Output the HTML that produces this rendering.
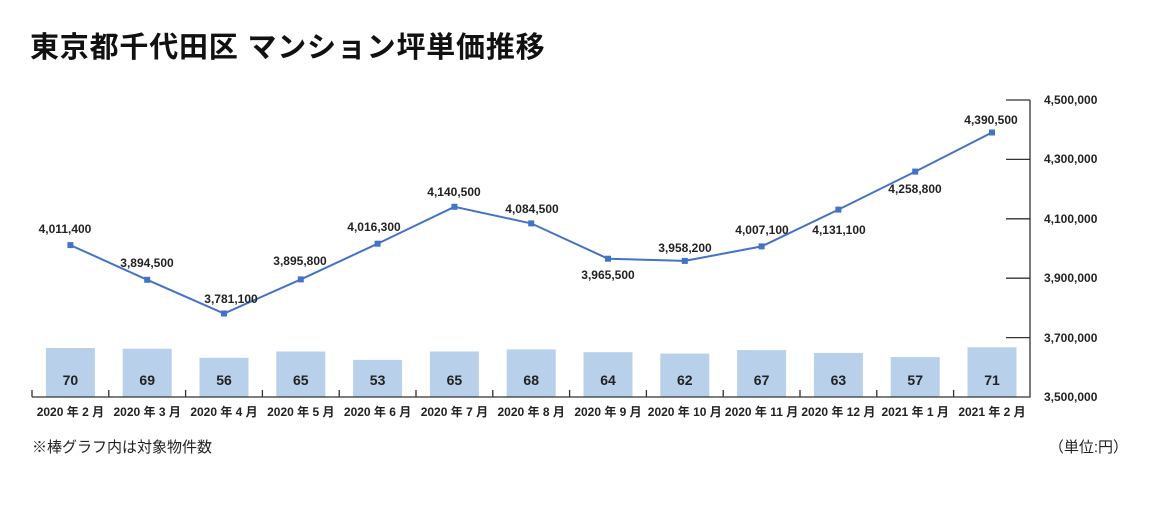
<!DOCTYPE html>
<html><head><meta charset="utf-8"><style>
body{margin:0;background:#fff;width:1160px;height:500px;overflow:hidden}
svg text{font-family:"Liberation Sans","Noto Sans CJK JP",sans-serif}
</style></head><body>
<svg width="1160" height="500" xmlns="http://www.w3.org/2000/svg">
<text x="30" y="57" font-size="29" font-weight="bold" fill="#111" letter-spacing="0.8">東京都千代田区 マンション坪単価推移</text>
<g fill="#b8d0ea">
<rect x="45.9" y="348" width="49" height="49"/>
<rect x="122.7" y="348.7" width="49" height="48.3"/>
<rect x="199.5" y="357.8" width="49" height="39.2"/>
<rect x="276.3" y="351.5" width="49" height="45.5"/>
<rect x="353.1" y="359.9" width="49" height="37.1"/>
<rect x="429.9" y="351.5" width="49" height="45.5"/>
<rect x="506.7" y="349.4" width="49" height="47.6"/>
<rect x="583.5" y="352.2" width="49" height="44.8"/>
<rect x="660.3" y="353.6" width="49" height="43.4"/>
<rect x="737.1" y="350.1" width="49" height="46.9"/>
<rect x="813.9" y="352.9" width="49" height="44.1"/>
<rect x="890.7" y="357.1" width="49" height="39.9"/>
<rect x="967.5" y="347.3" width="49" height="49.7"/>
</g>
<g font-size="14" font-weight="bold" fill="#222" text-anchor="middle">
<text x="70.4" y="385">70</text><text x="147.2" y="385">69</text><text x="224" y="385">56</text><text x="300.8" y="385">65</text><text x="377.6" y="385">53</text><text x="454.4" y="385">65</text><text x="531.2" y="385">68</text><text x="608" y="385">64</text><text x="684.8" y="385">62</text><text x="761.6" y="385">67</text><text x="838.4" y="385">63</text><text x="915.2" y="385">57</text><text x="992" y="385">71</text>
</g>
<g stroke="#333" stroke-width="1.3" fill="none">
<path d="M32 397H1030V100"/>
<path d="M1006 100H1030M1006 159.4H1030M1006 218.8H1030M1006 278.2H1030M1006 337.6H1030"/>
<path d="M32 390V397M108.8 390V397M185.6 390V397M262.4 390V397M339.2 390V397M416 390V397M492.8 390V397M569.6 390V397M646.4 390V397M723.2 390V397M800 390V397M876.8 390V397M953.6 390V397"/>
</g>
<g font-size="12" font-weight="bold" fill="#222">
<text x="1044" y="104">4,500,000</text><text x="1044" y="163">4,300,000</text><text x="1044" y="223">4,100,000</text><text x="1044" y="282">3,900,000</text><text x="1044" y="342">3,700,000</text><text x="1044" y="401">3,500,000</text>
</g>
<g font-size="12" font-weight="bold" fill="#222" text-anchor="middle">
<text x="70.4" y="416">2020 年 2 月</text><text x="147.2" y="416">2020 年 3 月</text><text x="224" y="416">2020 年 4 月</text><text x="300.8" y="416">2020 年 5 月</text><text x="377.6" y="416">2020 年 6 月</text><text x="454.4" y="416">2020 年 7 月</text><text x="531.2" y="416">2020 年 8 月</text><text x="608" y="416">2020 年 9 月</text><text x="684.8" y="416">2020 年 10 月</text><text x="761.6" y="416">2020 年 11 月</text><text x="838.4" y="416">2020 年 12 月</text><text x="915.2" y="416">2021 年 1 月</text><text x="992" y="416">2021 年 2 月</text>
</g>
<polyline fill="none" stroke="#4472c4" stroke-width="2" points="70.4,245.1 147.2,279.8 224,313.5 300.8,279.4 377.6,243.7 454.4,206.8 531.2,223.4 608,258.7 684.8,260.9 761.6,246.4 838.4,209.6 915.2,171.6 992,132.5"/>
<g fill="#4472c4">
<rect x="67.4" y="242.1" width="6" height="6"/><rect x="144.2" y="276.8" width="6" height="6"/><rect x="221" y="310.5" width="6" height="6"/><rect x="297.8" y="276.4" width="6" height="6"/><rect x="374.6" y="240.7" width="6" height="6"/><rect x="451.4" y="203.8" width="6" height="6"/><rect x="528.2" y="220.4" width="6" height="6"/><rect x="605" y="255.7" width="6" height="6"/><rect x="681.8" y="257.9" width="6" height="6"/><rect x="758.6" y="243.4" width="6" height="6"/><rect x="835.4" y="206.6" width="6" height="6"/><rect x="912.2" y="168.6" width="6" height="6"/><rect x="989" y="129.5" width="6" height="6"/>
</g>
<g font-size="12" font-weight="bold" fill="#222" text-anchor="middle">
<text x="65" y="233">4,011,400</text><text x="147" y="267">3,894,500</text><text x="231" y="303">3,781,100</text><text x="300" y="265">3,895,800</text><text x="374" y="231">4,016,300</text><text x="454" y="196">4,140,500</text><text x="532" y="213">4,084,500</text><text x="608" y="279">3,965,500</text><text x="685" y="252">3,958,200</text><text x="762" y="234">4,007,100</text><text x="839" y="234">4,131,100</text><text x="915" y="193">4,258,800</text><text x="991" y="124">4,390,500</text>
</g>
<text x="32" y="452" font-size="15" fill="#222">※棒グラフ内は対象物件数</text>
<text x="1128" y="452" font-size="15" fill="#222" text-anchor="end">（単位:円）</text>
</svg>
</body></html>
